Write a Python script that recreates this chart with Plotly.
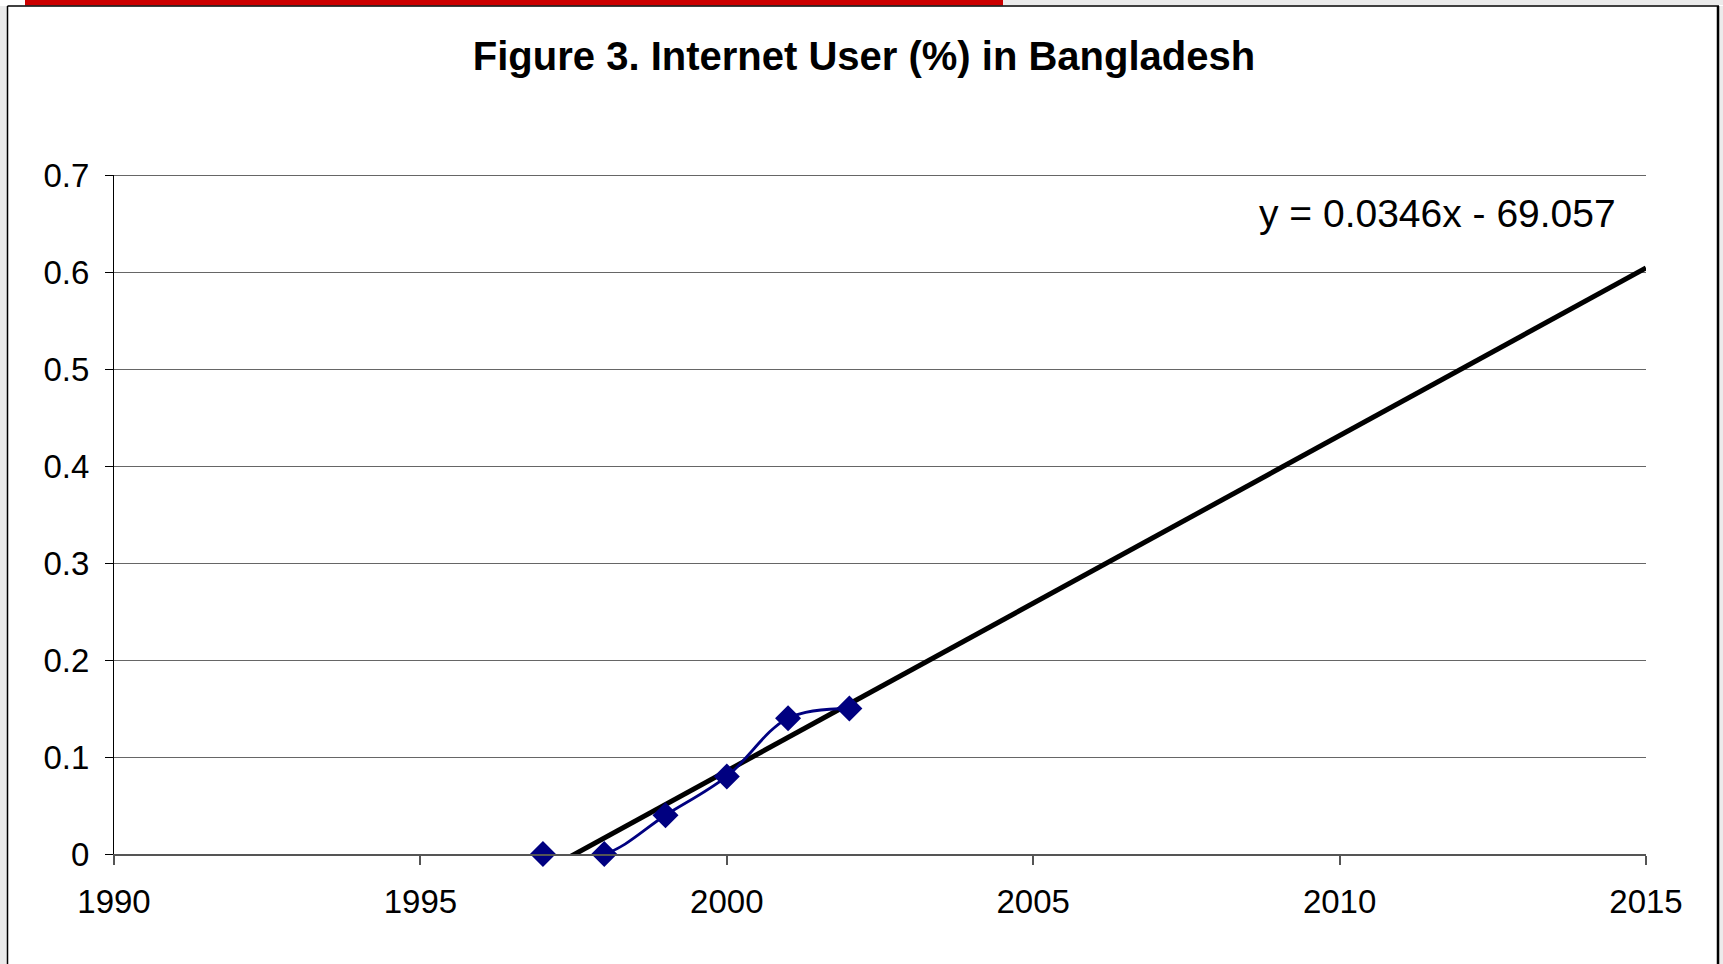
import numpy as np
import plotly.graph_objects as go

# ---- data ----
years = [1997, 1998, 1999, 2000, 2001, 2002]
internet_users_pct = [0.0, 0.0, 0.04, 0.08, 0.14, 0.15]
trend_x_span = [1997, 2015]          # Excel linear trendline, forecast forward to 2015
equation_text = "y = 0.0346x - 69.057"
title_text = "Figure 3. Internet User (%) in Bangladesh"
x_ticks = [1990, 1995, 2000, 2005, 2010, 2015]
y_ticks = [0, 0.1, 0.2, 0.3, 0.4, 0.5, 0.6, 0.7]

# linear least-squares trend (what Excel's trendline does)
slope, intercept = np.polyfit(years, internet_users_pct, 1)
trend_y = [slope * x + intercept for x in trend_x_span]

W, H = 1723, 964
L, R, T, B = 114, 1646, 175, 854   # plot area in pixels


def px(xp):
    return (xp - L) / (R - L)


def py(yp):
    return (B - yp) / (B - T)


FONT = "Liberation Sans, Arial, sans-serif"

fig = go.Figure()
fig.add_trace(go.Scatter(
    x=trend_x_span, y=trend_y, mode="lines",
    line=dict(color="#000000", width=5),
    hoverinfo="skip", showlegend=False,
))
fig.add_trace(go.Scatter(
    x=years, y=internet_users_pct, mode="lines+markers",
    line=dict(color="#000080", width=2.8, shape="spline", smoothing=1),
    marker=dict(symbol="diamond", size=20, color="#000080"),
    cliponaxis=False, showlegend=False,
))

shapes = [
    # light striped frame area outside the chart border
    dict(type="rect", xref="paper", yref="paper", x0=px(0), x1=px(7.5), y0=py(H), y1=py(6),
         fillcolor="#ebebeb", line=dict(width=0), layer="below"),
    dict(type="rect", xref="paper", yref="paper", x0=px(1719), x1=px(W), y0=py(H), y1=py(6),
         fillcolor="#ebebeb", line=dict(width=0), layer="below"),
    dict(type="rect", xref="paper", yref="paper", x0=px(1003), x1=px(W), y0=py(5), y1=py(0),
         fillcolor="#ebebeb", line=dict(width=0), layer="below"),
    # red bar at top
    dict(type="rect", xref="paper", yref="paper", x0=px(25), x1=px(1003), y0=py(5.5), y1=py(0),
         fillcolor="#cc0000", line=dict(width=0), layer="below"),
    # chart border
    dict(type="line", xref="paper", yref="paper", x0=px(7.5), x1=px(1719), y0=py(6), y1=py(6),
         line=dict(color="#000000", width=1.5)),
    dict(type="line", xref="paper", yref="paper", x0=px(7.5), x1=px(7.5), y0=py(6), y1=py(H),
         line=dict(color="#000000", width=1.5)),
    dict(type="line", xref="paper", yref="paper", x0=px(1718), x1=px(1718), y0=py(6), y1=py(H),
         line=dict(color="#000000", width=2.5)),
    # top gridline at the upper end of the y range (plotly hides the edge gridline)
    dict(type="line", xref="paper", yref="y", x0=0, x1=1, y0=y_ticks[-1], y1=y_ticks[-1],
         line=dict(color="#333333", width=1.5), layer="below"),
]

fig.update_layout(
    width=W, height=H,
    margin=dict(l=L, r=W - R, t=T, b=H - B, pad=0),
    paper_bgcolor="#ffffff", plot_bgcolor="#ffffff",
    font=dict(family=FONT, color="#000000", size=33),
    title=dict(text="<b>" + title_text + "</b>", xref="container", yref="container",
               x=864 / W, y=1 - 56 / H, xanchor="center", yanchor="middle",
               font=dict(family=FONT, size=40, color="#000000")),
    xaxis=dict(range=[1990, 2015], tickvals=x_ticks, ticktext=[str(v) for v in x_ticks],
               showgrid=False, zeroline=False, showline=True, linecolor="#555555", linewidth=1.5,
               ticks="outside", ticklen=9, tickcolor="#555555", tickwidth=1.5,
               tickfont=dict(family=FONT, size=33), ticklabelstandoff=9, fixedrange=True),
    yaxis=dict(range=[0, 0.7], tickvals=y_ticks, ticktext=[f"{v:g}" for v in y_ticks],
               showgrid=True, gridcolor="#666666", gridwidth=1.2, zeroline=False,
               showline=True, linecolor="#000000", linewidth=1.2,
               ticks="outside", ticklen=8, tickcolor="#000000", tickwidth=1.2,
               tickfont=dict(family=FONT, size=33), ticklabelstandoff=9, fixedrange=True),
    shapes=shapes,
    annotations=[dict(text=equation_text, xref="paper", yref="paper",
                      x=px(1437), y=py(213), xanchor="center", yanchor="middle",
                      showarrow=False, font=dict(family=FONT, size=39, color="#000000"))],
)

fig.write_html("out.html", config={"displayModeBar": False})
